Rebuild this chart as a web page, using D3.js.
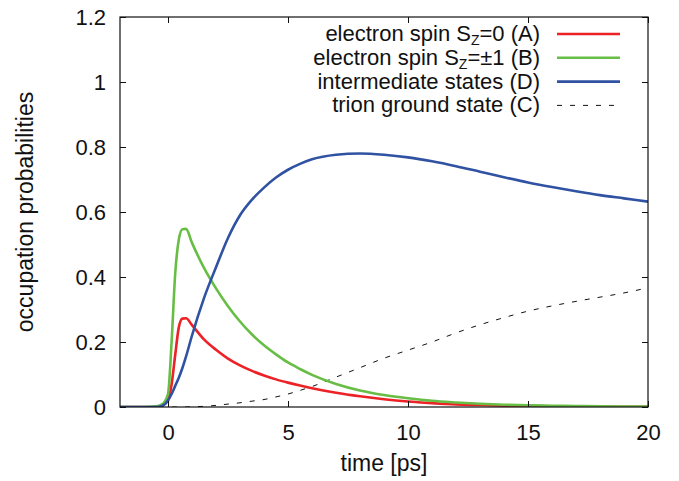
<!DOCTYPE html>
<html>
<head>
<meta charset="utf-8">
<script src="https://cdn.jsdelivr.net/npm/d3@7"></script>
<style>
  body { margin: 0; background: #fff; }
  svg text { font-family: "Liberation Sans", Arial, sans-serif; fill: #111; }
</style>
</head>
<body>
<div id="chart"></div>
<script>
// time axis samples [ps]
const time = [-2, -1, -0.5, -0.25, 0, 0.15, 0.3, 0.45, 0.6, 0.75, 1, 1.5, 2, 2.5, 3, 3.5, 4, 4.5, 5, 5.5, 6, 7, 8, 9, 10, 11, 12, 13, 14, 15, 16, 17, 18, 19, 20];

// electron spin Sz=0 (A)
const spinA = [0, 0, 0.001, 0.005, 0.02, 0.07, 0.16, 0.245, 0.272, 0.273, 0.252, 0.208, 0.176, 0.149, 0.128, 0.111, 0.097, 0.085, 0.075, 0.066, 0.058, 0.044, 0.033, 0.024, 0.017, 0.012, 0.008, 0.006, 0.004, 0.003, 0.002, 0.002, 0.001, 0.001, 0.001];
// electron spin Sz=±1 (B)
const spinB = [0, 0, 0.002, 0.008, 0.04, 0.2, 0.41, 0.515, 0.547, 0.548, 0.505, 0.428, 0.365, 0.31, 0.263, 0.223, 0.19, 0.162, 0.137, 0.117, 0.099, 0.071, 0.051, 0.037, 0.027, 0.019, 0.014, 0.01, 0.007, 0.005, 0.004, 0.003, 0.002, 0.0015, 0.001];
// intermediate states (D)
const interD = [0, 0, 0, 0.003, 0.02, 0.04, 0.065, 0.09, 0.12, 0.155, 0.22, 0.335, 0.43, 0.52, 0.59, 0.638, 0.675, 0.706, 0.73, 0.748, 0.762, 0.776, 0.78, 0.776, 0.768, 0.756, 0.741, 0.724, 0.707, 0.691, 0.677, 0.664, 0.652, 0.642, 0.632];
// trion ground state (C)
const trionC = [0, 0, 0, 0, 0, 0, 0, 0, 0, 0, 0.001, 0.002, 0.005, 0.009, 0.013, 0.018, 0.023, 0.031, 0.04, 0.051, 0.063, 0.092, 0.121, 0.15, 0.175, 0.2, 0.228, 0.253, 0.275, 0.295, 0.311, 0.325, 0.338, 0.351, 0.367];

const xTicks = [0, 5, 10, 15, 20];
const yTicks = [0, 0.2, 0.4, 0.6, 0.8, 1, 1.2];

const series = [
  { label: ["electron spin S", "Z", "=0 (A)"], values: spinA, color: "#ec2227", dash: null, w: 2.6 },
  { label: ["electron spin S", "Z", "=\u00b11 (B)"], values: spinB, color: "#68bd45", dash: null, w: 2.6 },
  { label: ["intermediate states (D)"], values: interD, color: "#3052a2", dash: null, w: 2.6 },
  { label: ["trion ground state (C)"], values: trionC, color: "#111", dash: "5,8", w: 1 }
];

const W = 679, H = 481;
const margin = { top: 17, right: 31, bottom: 74, left: 120 };
const width = W - margin.left - margin.right;
const height = H - margin.top - margin.bottom;

const svg = d3.select("#chart").append("svg")
  .attr("width", W).attr("height", H);
const g = svg.append("g").attr("transform", `translate(${margin.left},${margin.top})`);

const x = d3.scaleLinear().domain([-2, 20]).range([0, width]);
const y = d3.scaleLinear().domain([0, 1.2]).range([height, 0]);

g.append("defs").append("clipPath").attr("id", "clip")
  .append("rect").attr("width", width).attr("height", height);

const line = d3.line()
  .x((d, i) => x(time[i]))
  .y(d => y(d))
  .curve(d3.curveMonotoneX);

const plot = g.append("g").attr("clip-path", "url(#clip)");
// dashed one underneath, D on top
[series[3], series[0], series[1], series[2]].forEach(s => {
  plot.append("path")
    .datum(s.values)
    .attr("fill", "none")
    .attr("stroke", s.color)
    .attr("stroke-width", s.w)
    .attr("stroke-dasharray", s.dash)
    .attr("d", line);
});

// ticks inward, mirrored on top/right
const axB = g.append("g").attr("transform", `translate(0,${height})`)
  .call(d3.axisBottom(x).tickValues(xTicks).tickSizeInner(-6).tickSizeOuter(0).tickPadding(17));
const axT = g.append("g")
  .call(d3.axisTop(x).tickValues(xTicks).tickSizeInner(-6).tickSizeOuter(0).tickFormat(""));
const axL = g.append("g")
  .call(d3.axisLeft(y).tickValues(yTicks).tickSizeInner(-6).tickSizeOuter(0).tickPadding(14).tickFormat(d3.format("~g")));
const axR = g.append("g").attr("transform", `translate(${width},0)`)
  .call(d3.axisRight(y).tickValues(yTicks).tickSizeInner(-6).tickSizeOuter(0).tickFormat(""));

[axB, axT, axL, axR].forEach(a => {
  a.select(".domain").remove();
  a.selectAll("line").attr("stroke", "#111").attr("stroke-width", 1);
  a.selectAll("text").style("font-size", "22px").attr("fill", "#111");
});

// frame
g.append("rect").attr("width", width).attr("height", height)
  .attr("fill", "none").attr("stroke", "#111").attr("stroke-width", 1.2);

// axis titles
svg.append("text")
  .attr("x", margin.left + width / 2).attr("y", 471)
  .attr("text-anchor", "middle").style("font-size", "23px")
  .text("time [ps]");
svg.append("text")
  .attr("transform", "rotate(-90)")
  .attr("x", -(margin.top + height / 2)).attr("y", 33)
  .attr("text-anchor", "middle").style("font-size", "23px")
  .text("occupation probabilities");

// legend
const legend = svg.append("g");
series.forEach((s, i) => {
  const ly = 34 + i * 23.8;
  const t = legend.append("text")
    .attr("x", 540).attr("y", ly).attr("dy", 7)
    .attr("text-anchor", "end").style("font-size", "22px");
  t.append("tspan").text(s.label[0]);
  if (s.label.length > 1) {
    t.append("tspan").attr("dy", 4).style("font-size", "14px").text(s.label[1]);
    t.append("tspan").attr("dy", -4).text(s.label[2]);
  }
  legend.append("line")
    .attr("x1", 557).attr("x2", 620).attr("y1", ly).attr("y2", ly)
    .attr("stroke", s.color).attr("stroke-width", s.dash ? 1 : 2.6)
    .attr("stroke-dasharray", s.dash);
});
</script>
</body>
</html>
